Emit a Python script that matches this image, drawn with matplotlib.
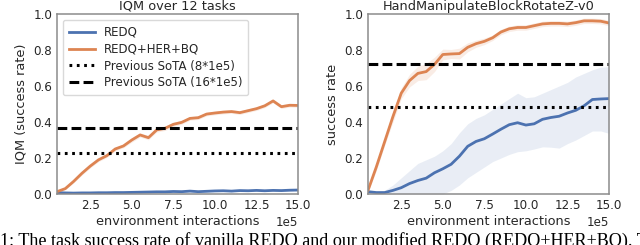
import numpy as np
import matplotlib
matplotlib.use("Agg")
import matplotlib.pyplot as plt
from matplotlib.ticker import MultipleLocator

# ---- data (x in units of 1e5 environment interactions) ----
steps = [0.5, 1.0, 1.5, 2.0, 2.5, 3.0, 3.5, 4.0, 4.5, 5.0, 5.5, 6.0, 6.5, 7.0, 7.5,
         8.0, 8.5, 9.0, 9.5, 10.0, 10.5, 11.0, 11.5, 12.0, 12.5, 13.0, 13.5, 14.0, 14.5, 15.0]

# Left panel: IQM over 12 tasks
iqm_redq = [0.008, 0.006, 0.005, 0.006, 0.006, 0.007, 0.007, 0.008, 0.008, 0.009,
            0.010, 0.011, 0.012, 0.012, 0.014, 0.013, 0.016, 0.013, 0.015, 0.017,
            0.018, 0.016, 0.019, 0.018, 0.020, 0.018, 0.020, 0.019, 0.021, 0.022]
iqm_ours = [0.013, 0.030, 0.070, 0.115, 0.155, 0.190, 0.213, 0.250, 0.267, 0.300,
            0.328, 0.313, 0.356, 0.365, 0.387, 0.398, 0.420, 0.424, 0.444, 0.450,
            0.455, 0.458, 0.452, 0.463, 0.474, 0.490, 0.517, 0.485, 0.493, 0.492]
iqm_redq_err = [0.003] * 30
iqm_ours_err = [0.005, 0.006, 0.008, 0.010, 0.010, 0.010, 0.010, 0.010, 0.010, 0.012,
                0.012, 0.012, 0.012, 0.012, 0.012, 0.010, 0.010, 0.010, 0.010, 0.010,
                0.010, 0.010, 0.010, 0.010, 0.010, 0.010, 0.010, 0.010, 0.010, 0.010]
iqm_sota8 = 0.23
iqm_sota16 = 0.365

# Right panel: HandManipulateBlockRotateZ-v0
rot_redq = [0.013, 0.008, 0.008, 0.020, 0.035, 0.058, 0.075, 0.088, 0.118, 0.140,
            0.165, 0.210, 0.265, 0.292, 0.307, 0.333, 0.360, 0.385, 0.396, 0.383,
            0.390, 0.415, 0.425, 0.432, 0.450, 0.465, 0.490, 0.525, 0.528, 0.530]
rot_redq_hi = [0.020, 0.015, 0.020, 0.050, 0.090, 0.130, 0.170, 0.190, 0.210, 0.240,
               0.280, 0.340, 0.390, 0.420, 0.440, 0.470, 0.500, 0.530, 0.560, 0.535,
               0.540, 0.560, 0.580, 0.600, 0.620, 0.650, 0.670, 0.690, 0.705, 0.707]
rot_redq_lo = [0.005, 0.0, 0.0, 0.0, 0.0, 0.0, 0.0, 0.0, 0.0, 0.0,
               0.020, 0.050, 0.090, 0.120, 0.150, 0.180, 0.200, 0.220, 0.235, 0.240,
               0.250, 0.262, 0.260, 0.255, 0.280, 0.300, 0.325, 0.350, 0.350, 0.337]
rot_ours = [0.020, 0.150, 0.290, 0.430, 0.560, 0.630, 0.670, 0.680, 0.720, 0.775,
            0.778, 0.780, 0.815, 0.835, 0.848, 0.868, 0.900, 0.918, 0.925, 0.925,
            0.935, 0.945, 0.948, 0.948, 0.945, 0.952, 0.962, 0.962, 0.960, 0.950]
rot_ours_err = [0.010, 0.020, 0.020, 0.030, 0.030, 0.035, 0.040, 0.045, 0.040, 0.030,
                0.025, 0.030, 0.025, 0.020, 0.018, 0.015, 0.015, 0.015, 0.015, 0.015,
                0.015, 0.015, 0.015, 0.015, 0.015, 0.015, 0.015, 0.015, 0.015, 0.015]
rot_sota8 = 0.483
rot_sota16 = 0.722

titles = ["IQM over 12 tasks", "HandManipulateBlockRotateZ-v0"]
ylabels = ["IQM (success rate)", "success rate"]
xlabel = "environment interactions"
labels = ["REDQ", "REDQ+HER+BQ", "Previous SoTA (8*1e5)", "Previous SoTA (16*1e5)"]
caption = "1: The task success rate of vanilla REDQ and our modified REDQ (REDQ+HER+BQ). T"

# ---- style ----
BLUE = "#4c72b0"
ORANGE = "#dd8452"
TEXT = "#262626"
SPINE = "#8c8c8c"
FS_LAB = 9.3
FS_TICK = 8.6
FS_LEG = 8.5

plt.rcParams["font.family"] = ["DejaVu Sans"]

fig = plt.figure(figsize=(6.4, 2.45), dpi=100)
ax1 = fig.add_axes([57 / 640, 51 / 245, 241 / 640, 180 / 245])
ax2 = fig.add_axes([368 / 640, 51 / 245, 241 / 640, 180 / 245])

x = np.array(steps) * 1e5

panels = [
    (ax1, iqm_redq, np.array(iqm_redq) - np.array(iqm_redq_err), np.array(iqm_redq) + np.array(iqm_redq_err),
     iqm_ours, iqm_ours_err, iqm_sota8, iqm_sota16),
    (ax2, rot_redq, rot_redq_lo, rot_redq_hi, rot_ours, rot_ours_err, rot_sota8, rot_sota16),
]

for i, (ax, redq, rlo, rhi, ours, oerr, s8, s16) in enumerate(panels):
    ours = np.array(ours)
    oerr = np.array(oerr)
    ax.fill_between(x, rlo, rhi, color=BLUE, alpha=0.12, lw=0)
    ax.fill_between(x, ours - oerr, ours + oerr, color=ORANGE, alpha=0.15, lw=0)
    ax.plot(x, redq, color=BLUE, lw=2, label=labels[0])
    ax.plot(x, ours, color=ORANGE, lw=2, label=labels[1])
    ax.axhline(s8, color="black", lw=2.2, ls=(0, (0.9, 1.5)), label=labels[2])
    ax.axhline(s16, color="black", lw=2.2, ls=(0, (3.2, 1.4)), label=labels[3])
    ax.set_xlim(x[0], x[-1])
    ax.set_ylim(0, 1.0)
    ax.xaxis.set_major_locator(MultipleLocator(2.5e5))
    ax.yaxis.set_major_locator(MultipleLocator(0.2))
    ax.ticklabel_format(style="sci", axis="x", scilimits=(5, 5))
    ax.xaxis.get_offset_text().set_fontsize(FS_TICK)
    ax.xaxis.get_offset_text().set_color(TEXT)
    ax.tick_params(length=0, labelsize=FS_TICK, colors=TEXT, pad=3.5)
    for sp in ax.spines.values():
        sp.set_color(SPINE)
        sp.set_linewidth(1.1)
    ax.set_title(titles[i], fontsize=FS_LAB, color=TEXT, pad=3)
    ax.set_ylabel(ylabels[i], fontsize=FS_LAB, color=TEXT, labelpad=4)
    ax.set_xlabel(xlabel, fontsize=FS_LAB, color=TEXT, labelpad=2)

leg = ax1.legend(loc="upper left", fontsize=FS_LEG, frameon=True, handlelength=2.2,
                 borderpad=0.5, labelspacing=0.33, handletextpad=0.75,
                 bbox_to_anchor=(0.0, 1.0))
leg.get_frame().set_edgecolor("#d0d0d0")
for t in leg.get_texts():
    t.set_color(TEXT)

fig.text(0.0, 13 / 245, caption, fontsize=13.1, family=["Liberation Serif", "DejaVu Serif"],
         color="black", ha="left", va="top")

fig.savefig("out.png", dpi=100)
